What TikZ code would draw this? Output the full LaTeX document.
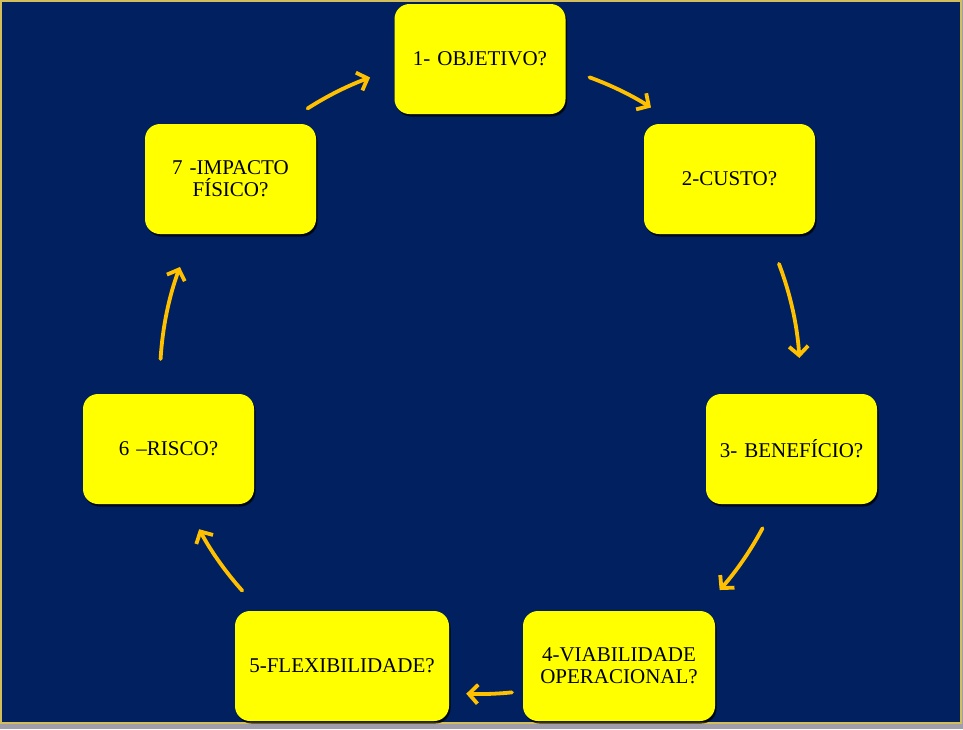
\documentclass[tikz,border=0pt]{standalone}
\usepackage{fontspec}
\setmainfont{Liberation Serif}
\usetikzlibrary{arrows.meta,shadows}
\definecolor{navy}{RGB}{0,32,96}
\definecolor{goldline}{RGB}{212,190,90}
\definecolor{arrowgold}{RGB}{255,192,0}
\definecolor{boxyellow}{RGB}{255,255,0}
\definecolor{stripgrey}{RGB}{160,158,170}
\tikzset{
  qbox/.style={rounded corners=15pt, fill=boxyellow, draw=none,
    minimum height=110pt, text width=#1, minimum width=#1, align=center,
    inner sep=0pt, font=\fontsize{21}{22}\selectfont,
    drop shadow={shadow xshift=1.5pt, shadow yshift=-2.5pt, fill=black, opacity=0.75}},
  qbox/.default=171pt,
  arr/.style={draw=arrowgold, line width=3.8pt, line cap=round,
    -{Straight Barb[length=9pt,width=19pt,line width=3.8pt]}}
}
\begin{document}
\begin{tikzpicture}[x=1pt,y=1pt]
  \useasboundingbox (0,0) rectangle (963,-729);
  \fill[stripgrey] (0,0) rectangle (963,-729);
  \filldraw[fill=navy, draw=goldline, line width=2pt] (1,-1) rectangle (961,-723);

  \node[qbox] (n1) at (480,-59) {1- OBJETIVO?};
  \node[qbox] (n2) at (729.5,-179) {2-CUSTO?};
  \node[qbox] (n3) at (791.5,-449) {3- BENEFÍCIO?};
  \node[qbox=192pt] (n4) at (619,-666) {4-VIABILIDADE\\OPERACIONAL?};
  \node[qbox=214pt] (n5) at (342,-666) {5-FLEXIBILIDADE?};
  \node[qbox] (n6) at (168.5,-449) {6 –RISCO?};
  \node[qbox] (n7) at (230.5,-179) {7 -IMPACTO\\FÍSICO?};

  \coordinate (O) at (480,-378);
  \path (O) ++(122.6:320pt) coordinate (a1);
  \path (O) ++(70.0:320pt) coordinate (a2);
  \path (O) ++(20.9:320pt) coordinate (a3);
  \path (O) ++(-28.0:320pt) coordinate (a4);
  \path (O) ++(-84.2:316pt) coordinate (a5);
  \path (O) ++(-138.2:319pt) coordinate (a6);
  \path (O) ++(176.6:320pt) coordinate (a7);

  \draw[arr] (a1) arc[start angle=122.6, end angle=110.1, radius=320pt];
  \draw[arr] (a2) arc[start angle=70.0, end angle=57.7, radius=320pt];
  \draw[arr] (a3) arc[start angle=20.9, end angle=3.6, radius=320pt];
  \draw[arr] (a4) arc[start angle=-28.0, end angle=-41.5, radius=320pt];
  \draw[arr] (a5) arc[start angle=-84.2, end angle=-92.5, radius=316pt];
  \draw[arr] (a6) arc[start angle=-138.2, end angle=-151.7, radius=319pt];
  \draw[arr] (a7) arc[start angle=176.6, end angle=159.7, radius=320pt];
\end{tikzpicture}
\end{document}
